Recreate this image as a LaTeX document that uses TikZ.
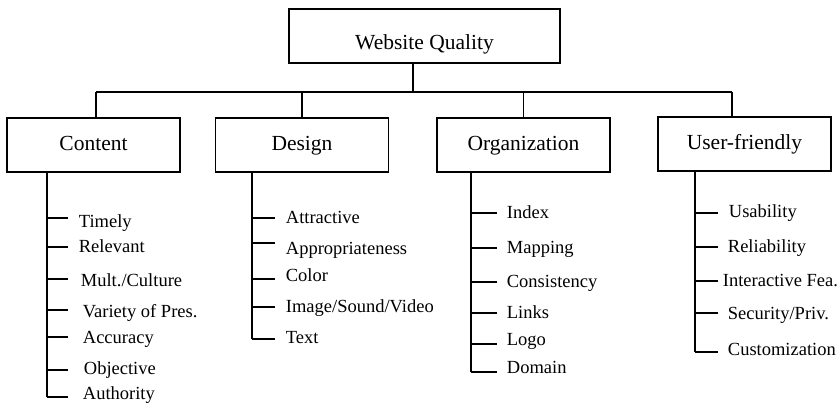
\documentclass[tikz,border=0pt]{standalone}
\usepackage{fontspec}
\setmainfont{Liberation Serif}
\begin{document}
\begin{tikzpicture}[x=1pt,y=-1pt,line width=1.8pt,
catbox/.style={draw,minimum width=173pt,minimum height=54pt,inner sep=0pt,font=\fontsize{21.5}{24}\selectfont,text height=15pt,text depth=4pt},
leaf/.style={anchor=base west,inner xsep=#1,inner ysep=0pt,font=\fontsize{18.5}{21}\selectfont},
leaf/.default=10pt]
\useasboundingbox (0,0) rectangle (840,404);
\newcommand{\ybus}{92}
\newcommand{\xcon}{47}
\newcommand{\xdes}{252}
\newcommand{\xorg}{471}
\newcommand{\xusr}{695}

\node [catbox,minimum width=271pt,text height=28pt,text depth=0pt] (wq) at (424.5,36) {Website Quality};
\node [catbox] (con) at (93.5,145) {Content};
\node [catbox] (des) at (302,145) {Design};
\node [catbox] (org) at (523.5,145) {Organization};
\node [catbox] (usr) at (744.5,144) {User-friendly};

\coordinate (bl) at (96,\ybus);
\coordinate (bt) at (413,\ybus);
\coordinate (br) at (732,\ybus);
\draw (bl) -- (br);
\draw (bt |- wq.south) -- (bt);
\draw (bl |- con.north) -- (bl);
\draw (des.north) -- (des.north |- bl);
\draw (org.north) -- (org.north |- bl);
\draw (br |- usr.north) -- (br);

\foreach \i/\t/\ly/\by/\g in {1/Timely/218/227/10pt, 2/Relevant/247/252/10pt, 3/{Mult./Culture}/279/286/12pt, 4/{Variety of Pres.}/310/317/14pt, 5/Accuracy/337/343/14pt, 6/Objective/370/374/15pt, 7/Authority/397/399/14pt}{
\coordinate (tcon\i) at (\xcon,\ly);
\node [leaf=\g] (lcon\i) at (68,\by) {\t};
\draw (tcon\i) -- (tcon\i -| lcon\i.west);
}
\draw (tcon7 |- con.south) -- (tcon7);

\foreach \i/\t/\ly/\by/\g in {1/Attractive/218/223/10pt, 2/Appropriateness/243/254/10pt, 3/Color/279/281/10pt, 4/{Image/Sound/Video}/307/312/10pt, 5/Text/339/343/10pt}{
\coordinate (tdes\i) at (\xdes,\ly);
\node [leaf=\g] (ldes\i) at (275,\by) {\t};
\draw (tdes\i) -- (tdes\i -| ldes\i.west);
}
\draw (tdes5 |- des.south) -- (tdes5);

\foreach \i/\t/\ly/\by/\g in {1/Index/213/218/9pt, 2/Mapping/248/253/9pt, 3/Consistency/282/287/9pt, 4/Links/313/318/9pt, 5/Logo/344/345/9pt, 6/Domain/372/373/9pt}{
\coordinate (torg\i) at (\xorg,\ly);
\node [leaf=\g] (lorg\i) at (497,\by) {\t};
\draw (torg\i) -- (torg\i -| lorg\i.west);
}
\draw (torg6 |- org.south) -- (torg6);

\foreach \i/\t/\ly/\by/\g in {1/Usability/213/217/10pt, 2/Reliability/247/252/9pt, 3/{Interactive Fea.}/281/286/4pt, 4/{Security/Priv.}/313/319/9pt, 5/Customization/352/355/9pt}{
\coordinate (tusr\i) at (\xusr,\ly);
\node [leaf=\g] (lusr\i) at (718,\by) {\t};
\draw (tusr\i) -- (tusr\i -| lusr\i.west);
}
\draw (tusr5 |- usr.south) -- (tusr5);
\end{tikzpicture}
\end{document}
